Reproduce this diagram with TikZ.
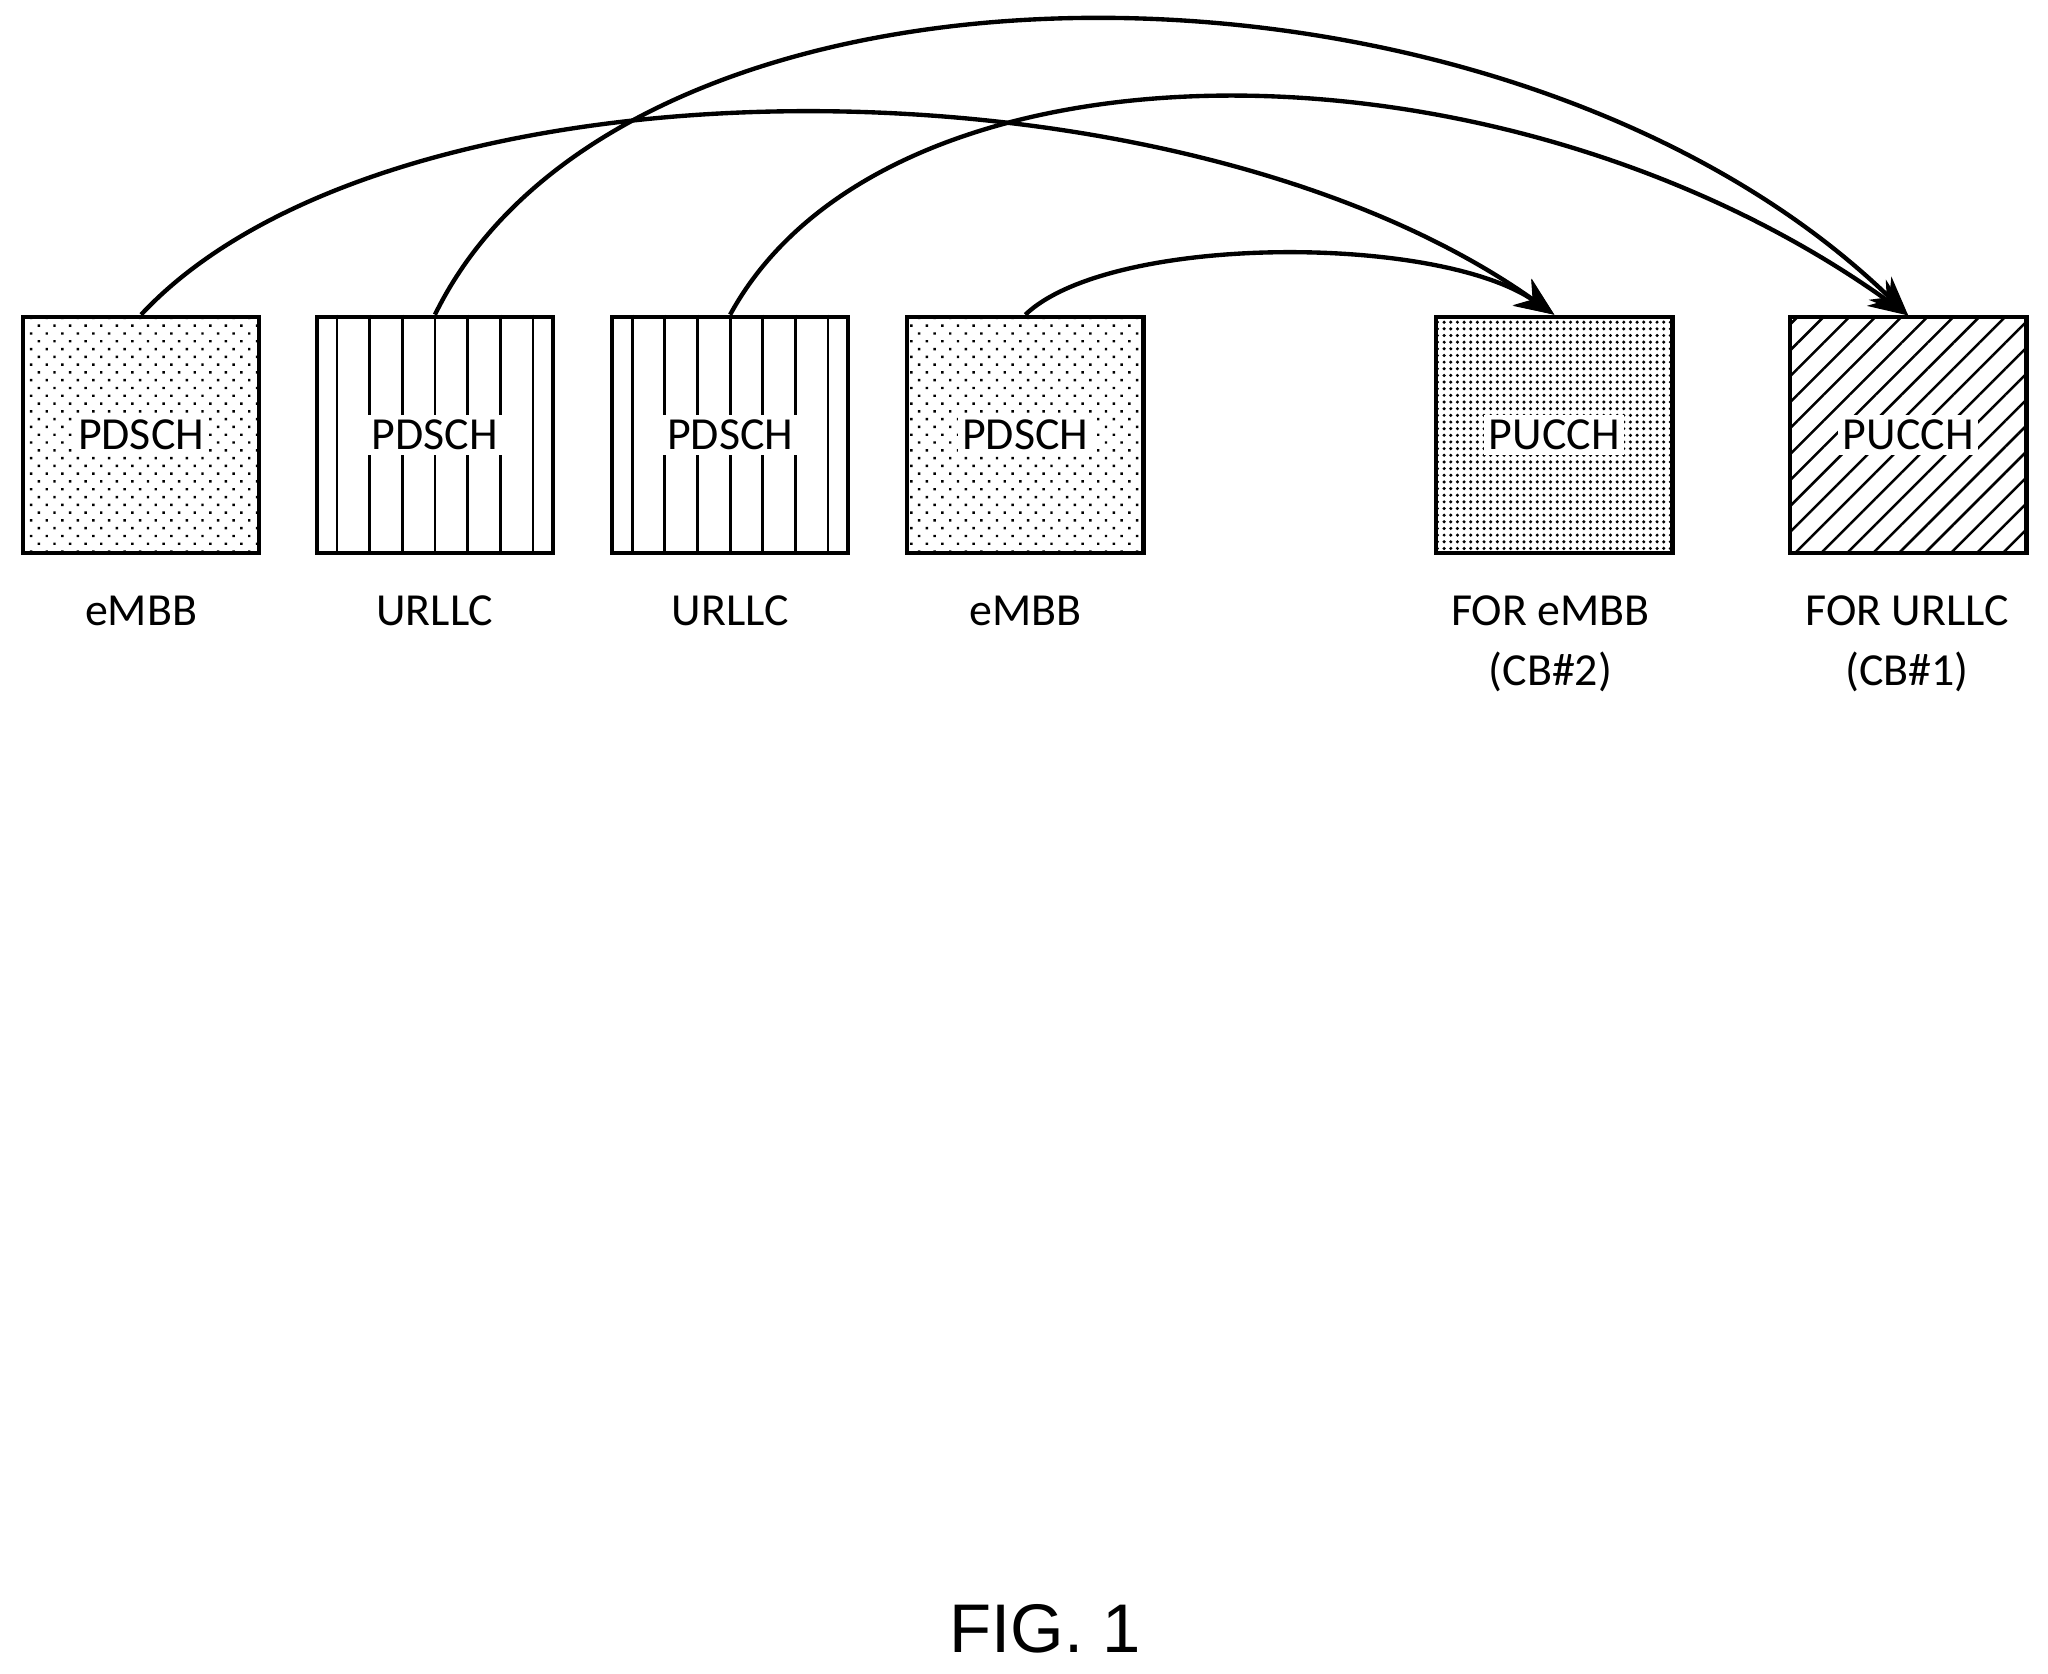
\documentclass[tikz,border=0pt]{standalone}
\usepackage{fontspec}
\setmainfont{Carlito}
\newfontfamily\figfont{Liberation Sans}
\usetikzlibrary{patterns,patterns.meta,arrows.meta}

\begin{document}
\begin{tikzpicture}[x=0.02cm,y=-0.02cm,
    chan/.style={draw,line width=1.8pt,minimum size=3.62cm,inner sep=0pt},
    lab/.style={fill=white,inner sep=2pt,font=\fontsize{20}{24}\selectfont},
    capt/.style={align=center,font=\fontsize{20}{26}\selectfont},
    link/.style={line width=1.9pt,-{Stealth[length=17pt,width=14pt]}}]
    \useasboundingbox (0,0) rectangle (1568,1281);
    % PDSCH boxes
    \node[chan,pattern={Dots[angle=45,distance=4.8pt,radius=0.75pt]}] (p1) at (108,333) {};
    \node[chan] (p2) at (333,333) {};
    \node[chan] (p3) at (559,333) {};
    \node[chan,pattern={Dots[angle=45,distance=4.8pt,radius=0.75pt]}] (p4) at (785,333) {};
    % PUCCH boxes
    \node[chan,pattern={Dots[distance=2.9pt,radius=0.75pt]}] (u1) at (1190,333) {};
    \node[chan,pattern={Lines[angle=45,distance=8pt,line width=1.1pt]}] (u2) at (1461,333) {};
    \foreach \b in {p2,p3}
        \foreach \x in {-75,-50,-25,0,25,50,75}
            \draw[line width=1.2pt] ([xshift=\x*0.02cm]\b.north) -- ([xshift=\x*0.02cm]\b.south);
    \foreach \b/\t in {p1/PDSCH,p2/PDSCH,p3/PDSCH,p4/PDSCH,u1/PUCCH,u2/PUCCH}
        \node[lab] at (\b) {\t};
    % labels
    \node[capt] (c1) at (108,468) {eMBB};
    \node[capt] (c2) at (333,468) {URLLC};
    \node[capt] (c3) at (559,468) {URLLC};
    \node[capt] (c4) at (785,468) {eMBB};
    \node[capt,anchor=north] (c5) at (1187,450) {FOR eMBB\\(CB\#2)};
    \node[capt,anchor=north] (c6) at (1460,450) {FOR URLLC\\(CB\#1)};
    % arrows
    \draw[link] (p1.north) .. controls (300,35) and (900,35) .. (u1.north);
    \draw[link] (p2.north) .. controls (480,-60) and (1150,-60) .. (u2.north);
    \draw[link] (p3.north) .. controls (680,19) and (1150,19) .. (u2.north);
    \draw[link] (p4.north) .. controls (850,179) and (1100,179) .. (u1.north);
    \node[font=\figfont\fontsize{30}{36}\selectfont] (fig) at (800,1247) {FIG. 1};
\end{tikzpicture}
\end{document}
